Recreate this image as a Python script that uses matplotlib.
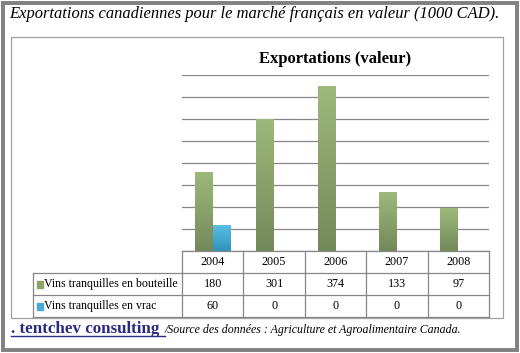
import numpy as np
import matplotlib.pyplot as plt
from matplotlib.patches import Rectangle
from matplotlib.lines import Line2D
from matplotlib.colors import LinearSegmentedColormap

# data
years = ["2004", "2005", "2006", "2007", "2008"]
bouteille = [180, 301, 374, 133, 97]
vrac = [60, 0, 0, 0, 0]
series_names = ["Vins tranquilles en bouteille", "Vins tranquilles en vrac"]
series_colors = ["#8aa366", "#4aaad4"]

SERIF = ["Liberation Serif", "DejaVu Serif"]
GRID = "#878787"

fig = plt.figure(figsize=(5.2, 3.53), dpi=100)
W, H = 520, 353

def fx(px):
    return px / W

def fy(py):
    return 1 - py / H

# outer frame and inner chart frame
fig.patches.append(Rectangle((fx(3), fy(350)), fx(514), 347 / H, transform=fig.transFigure,
                             fill=False, ec="#808080", lw=2.8))
fig.patches.append(Rectangle((fx(11), fy(318)), fx(492), 281 / H, transform=fig.transFigure,
                             fill=False, ec="#a0a0a0", lw=0.9))

fig.text(fx(9), fy(14), "Exportations canadiennes pour le marché français en valeur (1000 CAD).",
         family=SERIF, style="italic", fontsize=11.9, va="center", ha="left")

# plot area
ax = fig.add_axes([fx(182), fy(251), fx(307), 176 / H])
x = np.arange(len(years))
bw = 0.29
b1 = ax.bar(x - bw / 2, bouteille, bw, color=series_colors[0], zorder=3)
b2 = ax.bar(x + bw / 2, vrac, bw, color=series_colors[1], zorder=3)

# vertical gradient on the bars
grads = [LinearSegmentedColormap.from_list("g", ["#74895a", "#9db97a"]),
         LinearSegmentedColormap.from_list("b", ["#2f93bd", "#5cc0e4"])]
grad = np.linspace(0, 1, 64).reshape(-1, 1)
for bars, cm in zip([b1, b2], grads):
    for r in bars:
        if r.get_height() <= 0:
            continue
        im = ax.imshow(grad, cmap=cm, origin="lower", aspect="auto", zorder=3,
                       extent=[r.get_x(), r.get_x() + r.get_width(), 0, r.get_height()])
        im.set_clip_path(r)

ax.set_xlim(-0.5, len(years) - 0.5)
ax.set_ylim(0, 400)
ax.set_yticks(np.arange(0, 401, 50))
ax.grid(axis="y", color=GRID, lw=0.9, zorder=0)
ax.tick_params(left=False, bottom=False, labelleft=False, labelbottom=False)
for s in ax.spines.values():
    s.set_visible(False)

ax.set_title("Exportations (valeur)", family=SERIF, fontweight="bold", fontsize=12, pad=9)

# data table below the plot
rh = 22 / 176
lab_left = (33 - 182) / 307
n = len(years)
kw = dict(transform=ax.transAxes, clip_on=False, color=GRID, lw=0.9)
# header row
ax.add_line(Line2D([0, 1], [0, 0], **kw))
for i in range(n + 1):
    ax.add_line(Line2D([i / n, i / n], [0, -3 * rh], **kw))
for j in range(1, 4):
    ax.add_line(Line2D([lab_left, 1], [-j * rh, -j * rh], **kw))
ax.add_line(Line2D([lab_left, lab_left], [-rh, -3 * rh], **kw))

for i, yr in enumerate(years):
    ax.text((i + 0.5) / n, -0.5 * rh, yr, transform=ax.transAxes, ha="center", va="center",
            family=SERIF, fontsize=8.7)
for j, (name, vals, col) in enumerate(zip(series_names, [bouteille, vrac], series_colors)):
    yc = -(j + 1.5) * rh
    ax.add_patch(Rectangle((lab_left + 0.012, yc - 0.022), 0.02, 0.04, transform=ax.transAxes,
                           clip_on=False, color=col))
    ax.text(lab_left + 0.036, yc, name, transform=ax.transAxes, ha="left", va="center",
            family=SERIF, fontsize=8.6)
    for i, v in enumerate(vals):
        ax.text((i + 0.5) / n, yc, str(v), transform=ax.transAxes, ha="center", va="center",
                family=SERIF, fontsize=8.7)

# footer
fig.text(fx(11), fy(333), ". tentchev consulting", family=SERIF, fontweight="bold",
         fontsize=12.2, color="#2a2a80", ha="left", va="baseline")
fig.add_artist(Line2D([fx(11), fx(165)], [fy(336), fy(336)], transform=fig.transFigure,
                      color="#2a2a80", lw=1))
fig.text(fx(165), fy(333), "/Source des données : Agriculture et Agroalimentaire Canada.",
         family=SERIF, style="italic", fontsize=8.6, ha="left", va="baseline")

fig.savefig("out.png", dpi=100)
